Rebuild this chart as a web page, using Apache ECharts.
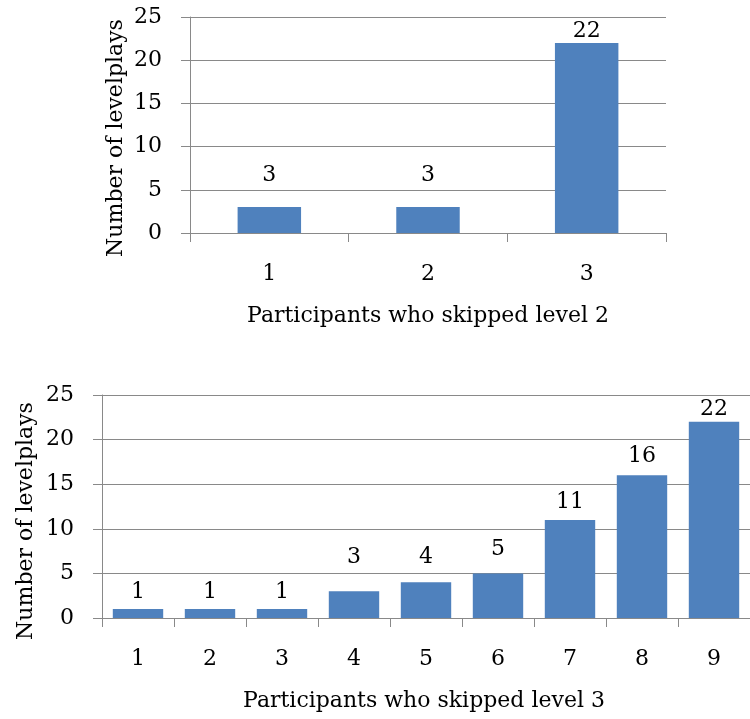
<!DOCTYPE html>
<html>
<head>
<meta charset="utf-8">
<script src="https://cdn.jsdelivr.net/npm/echarts@6/dist/echarts.min.js"></script>
<style>html,body{margin:0;padding:0;background:#fff}#c{width:750px;height:719px}</style>
</head>
<body>
<div id="c"></div>
<script>
// ---- data ----
const topCategories = ['1', '2', '3'];
const topValues = [3, 3, 22];
const bottomCategories = ['1', '2', '3', '4', '5', '6', '7', '8', '9'];
const bottomValues = [1, 1, 1, 3, 4, 5, 11, 16, 22];
const yTicks = [0, 5, 10, 15, 20, 25];
const yTitle = 'Number of levelplays';
const topXTitle = 'Participants who skipped level 2';
const bottomXTitle = 'Participants who skipped level 3';

// ---- styling (label lift above each bar, px) ----
const topLabelLift = [21, 21, 1];
const bottomLabelLift = [6, 6, 6, 23, 14, 13, 7, 8, 1];

const FONT = 'DejaVu Serif';
const FS = 22;
const GRID_COLOR = '#898989';
const BAR_COLOR = '#4F81BD';

function yAxisCfg(gridIndex) {
  return {
    type: 'value', gridIndex, min: yTicks[0], max: yTicks[yTicks.length - 1], interval: 5,
    axisLine: { show: true, lineStyle: { color: GRID_COLOR, width: 1 } },
    axisTick: { show: true, length: 9, lineStyle: { color: GRID_COLOR } },
    splitLine: { show: true, lineStyle: { color: GRID_COLOR, width: 1 } },
    axisLabel: { margin: 28, color: '#000', fontFamily: FONT, fontSize: FS }
  };
}
function xAxisCfg(gridIndex, cats) {
  return {
    type: 'category', gridIndex, data: cats, boundaryGap: true,
    axisLine: { show: true, lineStyle: { color: GRID_COLOR, width: 1 } },
    axisTick: { show: true, length: 9, alignWithLabel: false, interval: 0, lineStyle: { color: GRID_COLOR } },
    axisLabel: { margin: 30, color: '#000', fontFamily: FONT, fontSize: FS, interval: 0 }
  };
}
function barData(values, lifts) {
  return values.map((v, i) => ({ value: v, label: { distance: lifts[i] } }));
}

const chart = echarts.init(document.getElementById('c'), null, { renderer: 'canvas' });
chart.setOption({
  animation: false,
  backgroundColor: '#fff',
  grid: [
    { left: 190, right: 84, top: 17, height: 216 },
    { left: 102, width: 657, top: 395, height: 223 }
  ],
  xAxis: [xAxisCfg(0, topCategories), xAxisCfg(1, bottomCategories)],
  yAxis: [yAxisCfg(0), yAxisCfg(1)],
  series: [
    {
      type: 'bar', xAxisIndex: 0, yAxisIndex: 0, barWidth: '40%',
      data: barData(topValues, topLabelLift),
      itemStyle: { color: BAR_COLOR },
      label: { show: true, position: 'top', color: '#000', fontFamily: FONT, fontSize: FS }
    },
    {
      type: 'bar', xAxisIndex: 1, yAxisIndex: 1, barWidth: '70%',
      data: barData(bottomValues, bottomLabelLift),
      itemStyle: { color: BAR_COLOR },
      label: { show: true, position: 'top', color: '#000', fontFamily: FONT, fontSize: FS }
    }
  ],
  graphic: [
    { type: 'text', x: 116, y: 138, rotation: Math.PI / 2,
      style: { text: yTitle, fontFamily: FONT, fontSize: FS, fill: '#000', textAlign: 'center', textVerticalAlign: 'middle' } },
    { type: 'text', x: 26, y: 521, rotation: Math.PI / 2,
      style: { text: yTitle, fontFamily: FONT, fontSize: FS, fill: '#000', textAlign: 'center', textVerticalAlign: 'middle' } },
    { type: 'text', x: 428, y: 316,
      style: { text: topXTitle, fontFamily: FONT, fontSize: FS, fill: '#000', textAlign: 'center', textVerticalAlign: 'middle' } },
    { type: 'text', x: 424, y: 701,
      style: { text: bottomXTitle, fontFamily: FONT, fontSize: FS, fill: '#000', textAlign: 'center', textVerticalAlign: 'middle' } }
  ]
});
</script>
</body>
</html>
